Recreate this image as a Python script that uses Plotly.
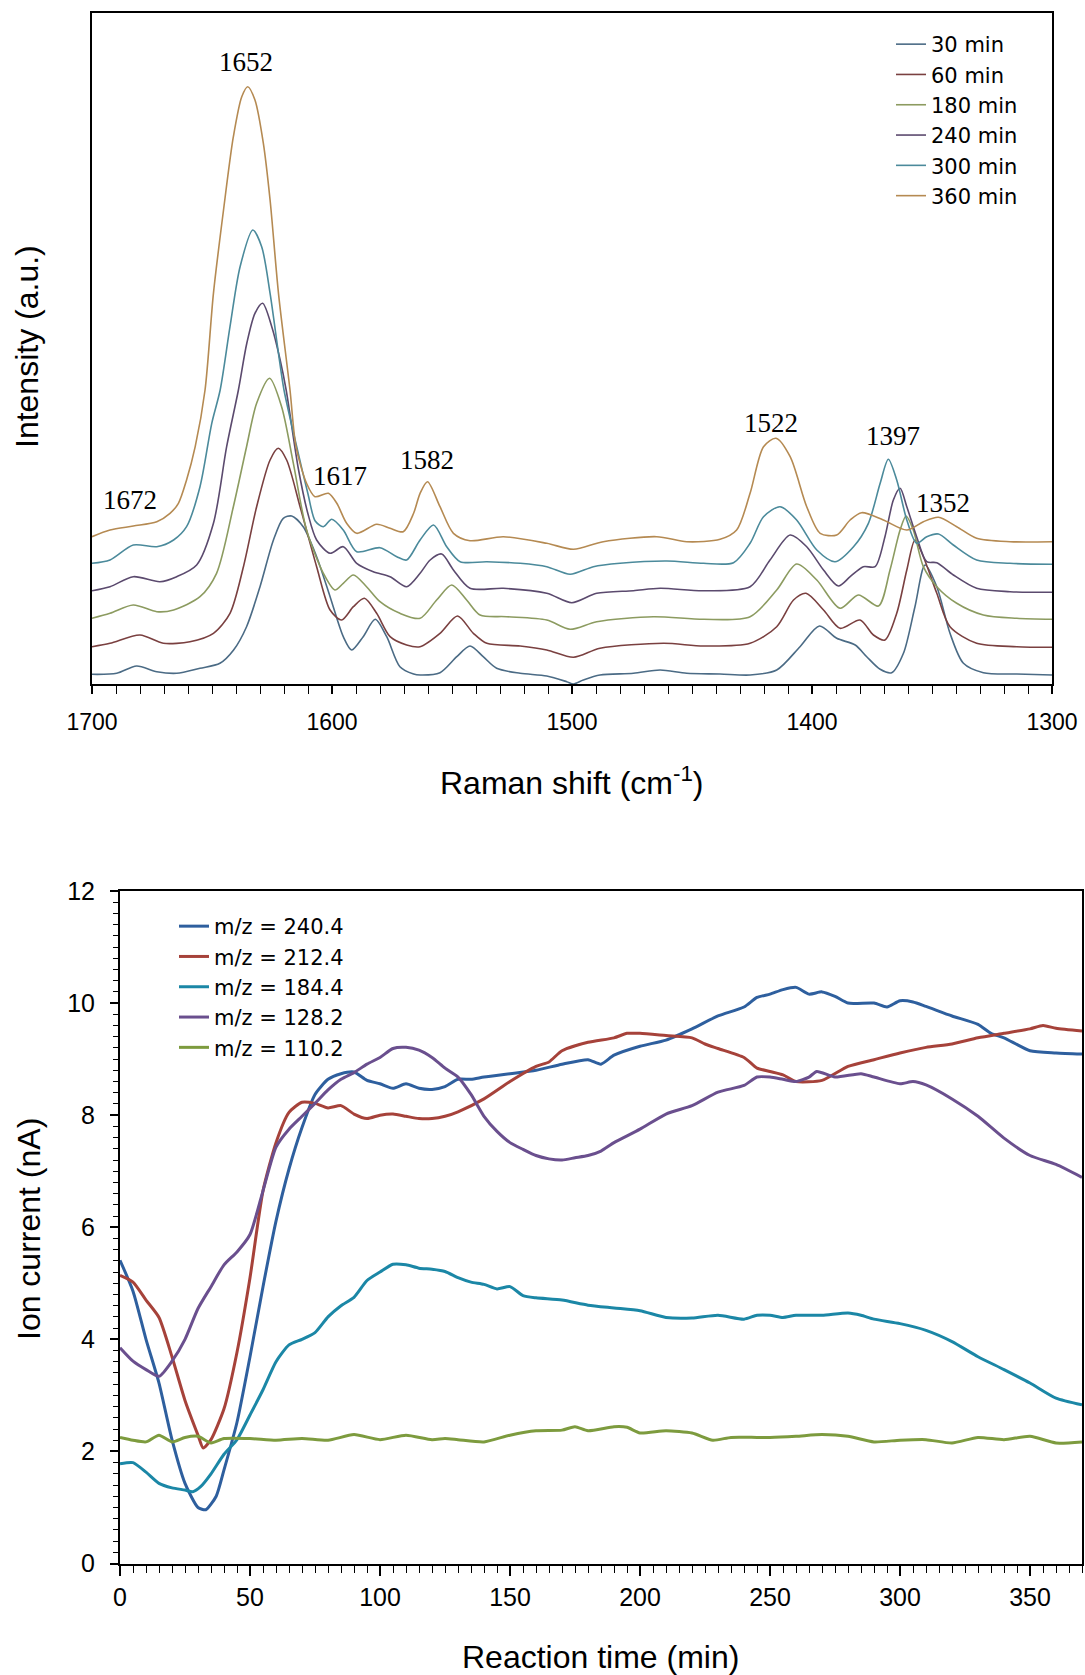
import plotly.graph_objects as go

# ---------------- Raman spectra (top panel) ----------------
labels_top = ["30 min", "60 min", "180 min", "240 min", "300 min", "360 min"]
colors_top = ["#4b6b85", "#7a4040", "#8c9b60", "#5b4a6e", "#4b8a9b", "#b58a52"]

w30 = [1700, 1689.7, 1681.4, 1673, 1664.7, 1655, 1646.7, 1641, 1635.6, 1630, 1624.4, 1620.3, 1616.8, 1612, 1606.4,
       1600.8, 1595.3, 1591.8, 1587, 1582, 1577.2, 1571.7, 1566, 1563.3, 1555, 1548, 1542.5, 1537, 1531.4, 1521.6,
       1510.5, 1502.2, 1499.4, 1495.3, 1488.3, 1474.4, 1463.3, 1452.2, 1438.3, 1425.8, 1414.7, 1405, 1396.9, 1389.7,
       1382, 1377.2, 1371.6, 1366.8, 1361.9, 1357.1, 1352.9, 1348, 1342.5, 1336.9, 1328.6, 1314.7, 1300]
i30 = [9.7, 10.7, 18, 12.3, 10.7, 15.7, 20.7, 34, 57.3, 97.3, 144, 165.7, 168, 157.3, 127.3,
       87.3, 47.3, 34, 47.3, 64.7, 47.3, 17.3, 10, 9, 11.3, 27.3, 38, 27.3, 15.7, 10.7,
       8, 2.3, 0, 4, 9, 10.7, 14, 10.7, 10, 9, 14, 37.3, 58, 45.7,
       39, 27.3, 14.7, 11.3, 30.7, 77.3, 119, 97.3, 50.7, 20.7, 11.3, 10, 9]

w60 = [1700, 1692.5, 1680, 1670.3, 1659.2, 1649.4, 1642.5, 1636.9, 1631.4, 1625.8, 1622.4, 1618.9, 1613.3, 1606.4,
       1600.8, 1596, 1591.1, 1586.5, 1581.4, 1575.8, 1568.9, 1563.3, 1555, 1547.7, 1541.1, 1535.5, 1521.6, 1510.5,
       1499.4, 1488.3, 1461.9, 1445.2, 1425.8, 1414.7, 1407.7, 1402.5, 1395.2, 1388.3, 1380, 1374.4, 1369.6, 1364.7,
       1360.5, 1357.1, 1353.6, 1348, 1342.5, 1331.4, 1314.7, 1300]
i60 = [37.3, 40.7, 49, 40.7, 42.3, 50.7, 70.7, 117.3, 177.3, 224, 235.7, 224, 177.3, 117.3,
       74, 64, 77.3, 85.7, 70.7, 47.3, 39, 37.3, 50.7, 68, 50.7, 40.7, 38, 34,
       26.7, 35.7, 40.7, 38, 40.7, 57.3, 84, 90.7, 74, 55.7, 64, 49, 44, 70.7,
       114, 144, 127.3, 90.7, 57.3, 40.7, 37.3, 36.7]

w180 = [1700, 1692.5, 1682.8, 1673, 1666, 1655, 1648.1, 1641.1, 1635.6, 1631.4, 1626, 1621, 1616.1, 1610.6, 1603.6,
        1598.8, 1595.3, 1591.1, 1585.6, 1580, 1571.7, 1563.3, 1556.4, 1550.1, 1543.9, 1538.3, 1527.2, 1510.5, 1500.8,
        1489.7, 1466.1, 1445.2, 1425.8, 1414.7, 1406.4, 1398, 1388.3, 1380.7, 1372.3, 1367.5, 1363.3, 1360.8, 1357.8,
        1353.6, 1348, 1339.7, 1328.6, 1314.7, 1300]
i180 = [65.7, 70.7, 79, 72.3, 74, 87.3, 110.7, 177.3, 237.3, 280.7, 305.7, 277.3, 220.7, 154, 110.7,
        94, 100.7, 109, 97.3, 82.3, 70.7, 65.7, 84, 99, 84, 69, 67.3, 64, 54.7,
        62.3, 67.3, 64.7, 67.3, 94, 120, 104, 75.7, 89, 78, 114, 154, 168, 154,
        117.3, 97.3, 80.7, 69, 65.7, 64.7]

w240 = [1700, 1692.5, 1682.8, 1671.7, 1664.7, 1656.4, 1649.4, 1643.9, 1639, 1635.5, 1632.1, 1628.9, 1625.1, 1621.6,
        1619.1, 1614, 1610, 1606.4, 1600.8, 1595.3, 1589.7, 1582.8, 1575.8, 1568.9, 1563.3, 1559.1, 1554.3, 1549.4,
        1542.5, 1528.6, 1510.5, 1500.1, 1489.7, 1474.4, 1463.3, 1445.2, 1425.8, 1417.5, 1409.1, 1402.2, 1395.2, 1389,
        1384.1, 1378.6, 1373.7, 1369.6, 1366.1, 1363.3, 1360.5, 1356.4, 1352.2, 1348, 1341.1, 1331.4, 1317.5, 1300]
i240 = [93.3, 97.3, 107.3, 102.3, 107.3, 119, 160.7, 237.3, 294, 340.7, 370.7, 380.7, 357.3, 324,
        294, 215, 170, 144, 130.7, 137.3, 120.7, 112.3, 107.3, 97.3, 110.7, 124, 130, 114,
        95.7, 95.7, 90.7, 81.3, 90.7, 93.3, 95.7, 93.3, 97.3, 124, 149, 137.3, 114, 98,
        107.3, 117.3, 117.3, 147.3, 184, 195.7, 177.3, 147.3, 122.3, 121.3, 109, 95.7, 92.3, 91.7]

w300 = [1700, 1692.5, 1682.8, 1673, 1666, 1660.6, 1655, 1650.1, 1646.6, 1642.5, 1638.3, 1633, 1629.3, 1625.8, 1622.3,
        1620, 1614, 1610, 1607, 1603.6, 1600.1, 1595.3, 1589.7, 1580, 1573, 1568.9, 1563.3, 1557.7, 1552.2, 1546.6,
        1535.5, 1521.6, 1510.5, 1500.8, 1491.1, 1480, 1460.5, 1445.2, 1432.7, 1425.8, 1420.2, 1413.3, 1406.4, 1398,
        1390.4, 1382.7, 1376.5, 1371.6, 1368.2, 1364.7, 1360.5, 1356.4, 1352.2, 1347.3, 1341.1, 1331.4, 1317.5, 1300]
i300 = [120.7, 124, 139, 137.3, 144, 157.3, 197.3, 260.7, 294, 357.3, 417.3, 454, 437.3, 390.7, 330.7,
        294, 230, 190, 163, 157.3, 164.7, 154, 132.3, 136.3, 127.3, 124, 144, 159, 137.3, 122.3,
        122.3, 120.7, 117.3, 109.7, 117.3, 120.7, 123, 120.7, 121.3, 140.7, 167.3, 177.3, 164, 134,
        122.3, 137.3, 160.7, 200.7, 224.7, 204, 164, 140.7, 147.3, 150, 139, 124, 120.7, 119.7]

w360 = [1700, 1692.5, 1682.8, 1673, 1667.5, 1664, 1660.6, 1657, 1652.9, 1649.4, 1645.2, 1641.1, 1637.6, 1635.1,
        1632.1, 1628.6, 1625.8, 1622.3, 1617.5, 1615, 1610.6, 1607.1, 1601.5, 1598, 1593.9, 1589.7, 1581.4, 1575.8,
        1570.3, 1566, 1563.3, 1560.2, 1555, 1549.4, 1542.5, 1528.6, 1510.5, 1499.4, 1487, 1464.7, 1452.2, 1438.3,
        1431.4, 1425.8, 1420.2, 1415, 1409.1, 1402.2, 1396.6, 1389.7, 1384.1, 1379.3, 1370.3, 1360.5, 1353.6, 1347.3,
        1339.7, 1331.4, 1317.5, 1300]
i360 = [147.3, 154, 158, 162.3, 170.7, 180.7, 204, 237.3, 294, 390.7, 474, 547.3, 587.3, 597.3,
        584, 540.7, 484, 390.7, 294, 237.3, 200.7, 187.3, 190.7, 180.7, 160.7, 150.7, 159.7, 155.7,
        152.3, 170.7, 190.7, 202.3, 177.3, 150.7, 143.3, 147.3, 140.7, 134.7, 142.3, 147.3, 142.3, 144.7,
        154, 190.7, 237.3, 245.7, 227.3, 177.3, 150.7, 149, 164, 171.3, 164, 154, 162.3, 166.7,
        157.3, 145.7, 142.3, 142.3]

peak_labels = ["1652", "1672", "1617", "1582", "1522", "1397", "1352"]
peak_label_x = [1635.8, 1684.2, 1596.7, 1560.4, 1417.0, 1366.3, 1345.4]
peak_label_y = [622, 184, 208, 224, 261, 248, 181]

# ---------------- Ion currents (bottom panel) ----------------
labels_bot = ["m/z = 240.4", "m/z = 212.4", "m/z = 184.4", "m/z = 128.2", "m/z = 110.2"]
colors_bot = ["#2e5f9e", "#a6423a", "#1b87a6", "#6a4f8e", "#7d9b3e"]

t240 = [0, 5, 10, 15, 20, 25, 30, 33, 37, 40, 45, 50, 55, 60, 65, 70, 75, 80, 85, 90, 95, 100, 105, 110, 115, 120,
        125, 130, 135, 140, 150, 160, 170, 180, 185, 190, 200, 210, 220, 230, 240, 245, 250, 255, 260, 265, 270, 275,
        280, 290, 295, 300, 305, 310, 320, 330, 335, 340, 350, 360, 370]
v240 = [5.41, 4.86, 4.0, 3.22, 2.21, 1.43, 1.0, 0.96, 1.2, 1.67, 2.52, 3.69, 4.94, 6.11, 7.04, 7.78, 8.37, 8.64, 8.74,
        8.77, 8.62, 8.56, 8.48, 8.56, 8.48, 8.46, 8.51, 8.64, 8.64, 8.68, 8.74, 8.8, 8.91, 8.99, 8.91, 9.07, 9.23, 9.34,
        9.54, 9.77, 9.93, 10.1, 10.16, 10.24, 10.28, 10.16, 10.2, 10.12, 10.0, 10.0, 9.93, 10.04, 10.02, 9.94, 9.77,
        9.62, 9.46, 9.38, 9.15, 9.11, 9.09]

t212 = [0, 5, 10, 15, 20, 25, 30, 32, 35, 40, 45, 50, 55, 60, 65, 70, 75, 80, 85, 90, 95, 100, 105, 110, 115, 120,
        125, 130, 140, 150, 160, 165, 170, 180, 190, 195, 200, 210, 220, 225, 230, 240, 245, 250, 255, 260, 270, 280,
        290, 300, 310, 320, 330, 340, 350, 355, 360, 370]
v212 = [5.14, 5.02, 4.7, 4.39, 3.69, 2.91, 2.29, 2.06, 2.21, 2.76, 3.77, 5.1, 6.65, 7.51, 8.05, 8.23, 8.21, 8.13, 8.17,
        8.02, 7.94, 8.0, 8.02, 7.98, 7.94, 7.94, 7.98, 8.06, 8.29, 8.6, 8.87, 8.95, 9.15, 9.3, 9.38, 9.46, 9.46, 9.42,
        9.38, 9.27, 9.19, 9.03, 8.84, 8.78, 8.72, 8.6, 8.62, 8.87, 8.99, 9.11, 9.21, 9.27, 9.38, 9.46, 9.54, 9.6,
        9.55, 9.5]

t184 = [0, 5, 10, 15, 20, 25, 28, 31, 35, 40, 45, 50, 55, 60, 65, 70, 75, 80, 85, 90, 95, 100, 105, 110, 115, 120,
        125, 130, 135, 140, 145, 150, 155, 160, 170, 180, 190, 200, 210, 220, 230, 240, 245, 250, 255, 260, 270, 280,
        285, 290, 300, 310, 320, 330, 340, 350, 360, 370]
v184 = [1.78, 1.8, 1.63, 1.43, 1.35, 1.31, 1.28, 1.37, 1.6, 1.95, 2.21, 2.65, 3.1, 3.6, 3.9, 4.0, 4.12, 4.4, 4.6,
        4.75, 5.05, 5.2, 5.34, 5.33, 5.27, 5.25, 5.21, 5.1, 5.02, 4.98, 4.9, 4.94, 4.78, 4.74, 4.7, 4.61, 4.56, 4.51,
        4.39, 4.38, 4.43, 4.36, 4.43, 4.43, 4.39, 4.43, 4.43, 4.47, 4.43, 4.36, 4.28, 4.16, 3.96, 3.69, 3.46, 3.22,
        2.95, 2.83]

t128 = [0, 5, 10, 15, 20, 25, 30, 35, 40, 45, 50, 55, 60, 65, 70, 75, 80, 85, 90, 95, 100, 105, 110, 115, 120, 125,
        130, 135, 140, 145, 150, 155, 160, 165, 170, 175, 180, 185, 190, 200, 210, 220, 230, 240, 245, 250, 255, 260,
        265, 268, 275, 285, 290, 300, 305, 310, 320, 330, 340, 350, 360, 370]
v128 = [3.85, 3.61, 3.46, 3.34, 3.61, 4.0, 4.55, 4.94, 5.33, 5.56, 5.87, 6.65, 7.43, 7.75, 7.98, 8.21, 8.45, 8.64,
        8.76, 8.91, 9.03, 9.19, 9.21, 9.16, 9.03, 8.84, 8.68, 8.37, 7.98, 7.71, 7.51, 7.39, 7.28, 7.22, 7.2, 7.24,
        7.28, 7.36, 7.51, 7.75, 8.02, 8.17, 8.41, 8.53, 8.68, 8.68, 8.64, 8.6, 8.68, 8.78, 8.68, 8.74, 8.68, 8.56,
        8.6, 8.54, 8.29, 7.98, 7.59, 7.28, 7.12, 6.89]

t110 = [0, 5, 10, 15, 20, 25, 30, 35, 40, 50, 60, 70, 80, 90, 100, 110, 120, 125, 130, 140, 150, 160, 170, 175, 180,
        190, 195, 200, 210, 220, 228, 235, 245, 250, 260, 270, 280, 290, 300, 310, 320, 330, 340, 350, 360, 370]
v110 = [2.25, 2.2, 2.17, 2.29, 2.17, 2.25, 2.27, 2.15, 2.23, 2.23, 2.2, 2.23, 2.2, 2.3, 2.21, 2.29, 2.21, 2.23, 2.21,
        2.17, 2.29, 2.37, 2.38, 2.44, 2.37, 2.44, 2.43, 2.33, 2.37, 2.33, 2.2, 2.25, 2.25, 2.25, 2.27, 2.3, 2.27, 2.17,
        2.2, 2.21, 2.15, 2.25, 2.21, 2.27, 2.15, 2.17]

x_ticks_top = [1700, 1600, 1500, 1400, 1300]
x_ticks_bot = [0, 50, 100, 150, 200, 250, 300, 350]
y_ticks_bot = [0, 2, 4, 6, 8, 10, 12]

# ---------------- figure ----------------
W, H = 1085, 1675
fig = go.Figure()

top_w = [w30, w60, w180, w240, w300, w360]
top_i = [i30, i60, i180, i240, i300, i360]
for lab, col, wx, iy in zip(labels_top, colors_top, top_w, top_i):
    fig.add_trace(go.Scatter(x=wx, y=iy, name=lab, mode="lines",
                             line=dict(color=col, width=1.6, shape="spline", smoothing=0.8),
                             xaxis="x", yaxis="y", legend="legend"))

bot_t = [t240, t212, t184, t128, t110]
bot_v = [v240, v212, v184, v128, v110]
for lab, col, tx, vy in zip(labels_bot, colors_bot, bot_t, bot_v):
    fig.add_trace(go.Scatter(x=tx, y=vy, name=lab, mode="lines",
                             line=dict(color=col, width=3, shape="spline", smoothing=0.6),
                             xaxis="x2", yaxis="y2", legend="legend2"))

def px(x):
    return x / W

def py(y):
    return 1 - y / H

tick_font = dict(family="Liberation Sans, Arial, sans-serif", size=23, color="black")
title_font = dict(family="Liberation Sans, Arial, sans-serif", size=32, color="black")
legend_font = dict(family="DejaVu Sans, Verdana, sans-serif", size=21, color="black")

annotations = []
for txt, ax_, ay_ in zip(peak_labels, peak_label_x, peak_label_y):
    annotations.append(dict(text=txt, x=ax_, y=ay_, xref="x", yref="y", showarrow=False,
                            font=dict(family="Liberation Serif, Times New Roman, serif", size=27, color="black")))

annotations += [
    dict(text="Intensity (a.u.)", x=px(27), y=py(347), xref="paper", yref="paper", showarrow=False,
         textangle=-90, font=title_font, xanchor="center", yanchor="middle"),
    dict(text="Raman shift (cm<sup>-1</sup>)", x=px(572), y=py(781), xref="paper", yref="paper",
         showarrow=False, font=title_font, xanchor="center", yanchor="middle"),
    dict(text="Ion current (nA)", x=px(29), y=py(1229), xref="paper", yref="paper", showarrow=False,
         textangle=-90, font=title_font, xanchor="center", yanchor="middle"),
    dict(text="Reaction time (min)", x=px(600), y=py(1657), xref="paper", yref="paper", showarrow=False,
         font=title_font, xanchor="center", yanchor="middle"),
]

fig.update_layout(
    width=W, height=H,
    margin=dict(l=0, r=0, t=0, b=0, autoexpand=False),
    paper_bgcolor="white", plot_bgcolor="white",
    showlegend=True,
    xaxis=dict(domain=[px(92), px(1052)], anchor="y", range=[1700, 1300], automargin=False,
               tickmode="array", tickvals=x_ticks_top, ticks="outside", ticklen=8, tickwidth=1.5,
               tickcolor="black", ticklabelstandoff=8,
               minor=dict(dtick=10, tick0=1300, ticks="outside", ticklen=8, tickwidth=1.2, tickcolor="black"),
               showline=True, linewidth=2, linecolor="black", mirror=True,
               showgrid=False, zeroline=False, tickfont=tick_font),
    yaxis=dict(domain=[py(684), py(13)], anchor="x", range=[0, 671], automargin=False,
               showticklabels=False, ticks="", showline=True, linewidth=1.5, linecolor="black",
               mirror=True, showgrid=False, zeroline=False),
    xaxis2=dict(domain=[px(120), px(1082)], anchor="y2", range=[0, 370], automargin=False,
                tickmode="array", tickvals=x_ticks_bot, ticks="outside", ticklen=10, tickwidth=1.5,
                tickcolor="black", ticklabelstandoff=0,
                minor=dict(dtick=5, tick0=0, ticks="outside", ticklen=7, tickwidth=1.2, tickcolor="black"),
                showline=True, linewidth=2, linecolor="black", mirror=True,
                showgrid=False, zeroline=False, tickfont=dict(tick_font, size=25)),
    yaxis2=dict(domain=[py(1563.5), py(891)], anchor="x2", range=[0, 12], automargin=False,
                tickmode="array", tickvals=y_ticks_bot, ticks="outside", ticklen=8, tickwidth=1.5,
                tickcolor="black", ticklabelstandoff=10,
                minor=dict(dtick=0.2, tick0=0, ticks="outside", ticklen=5, tickwidth=1.2, tickcolor="black"),
                showline=True, linewidth=2, linecolor="black", mirror=True,
                showgrid=False, zeroline=False, tickfont=dict(tick_font, size=25)),
    legend=dict(x=px(891), y=py(24), xanchor="left", yanchor="top", bgcolor="rgba(0,0,0,0)",
                font=legend_font, tracegroupgap=0, itemwidth=30),
    legend2=dict(x=px(174), y=py(906), xanchor="left", yanchor="top", bgcolor="rgba(0,0,0,0)",
                 font=legend_font, tracegroupgap=0, itemwidth=30),
    annotations=annotations,
)

fig.write_html("out.html")
